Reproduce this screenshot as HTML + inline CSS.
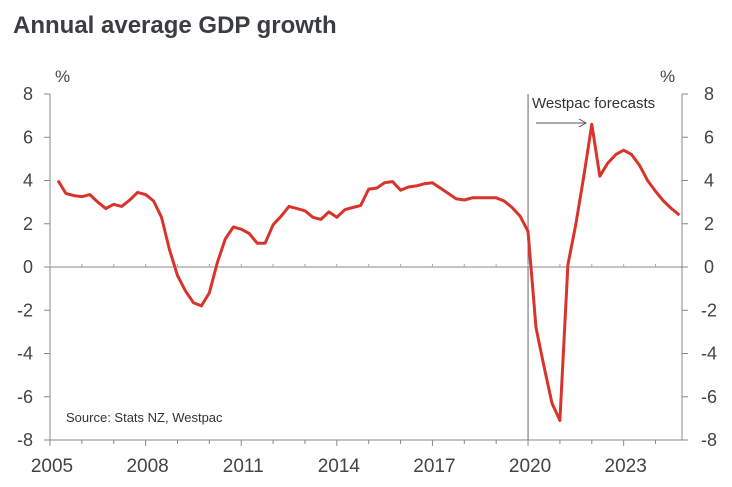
<!DOCTYPE html>
<html><head><meta charset="utf-8"><style>
html,body{margin:0;padding:0;background:#fff;width:732px;height:487px;overflow:hidden}
svg text{font-family:"Liberation Sans",sans-serif}
</style></head><body>
<svg id="chart" width="732" height="487" xmlns="http://www.w3.org/2000/svg">
<text x="13" y="33" font-size="24" font-weight="bold" fill="#3a3d42">Annual average GDP growth</text>
<g id="axes"></g>
<path id="series" fill="none" stroke="#d9342b" stroke-width="3" stroke-linejoin="round"/>
<text x="66" y="422" font-size="13" fill="#333">Source: Stats NZ, Westpac</text>
<text x="532" y="108" font-size="15" fill="#333">Westpac forecasts</text>
<g stroke="#555" stroke-width="1" fill="none">
<line x1="536" y1="123" x2="585" y2="123"/><path d="M579,119 L586,123 L579,127"/>
</g>
</svg>
<script>
const startYear = 2005.25;
const values = [4.0,3.4,3.3,3.25,3.35,3.0,2.7,2.9,2.8,3.1,3.45,3.35,3.05,2.3,0.8,-0.4,-1.1,-1.65,-1.8,-1.2,0.2,1.3,1.85,1.75,1.55,1.1,1.1,1.95,2.35,2.8,2.7,2.6,2.3,2.2,2.55,2.3,2.65,2.75,2.85,3.6,3.65,3.9,3.95,3.55,3.7,3.75,3.85,3.9,3.65,3.4,3.15,3.1,3.2,3.2,3.2,3.2,3.05,2.75,2.35,1.65,-2.8,-4.6,-6.3,-7.1,0.1,2.0,4.2,6.6,4.2,4.8,5.2,5.4,5.2,4.7,4.0,3.5,3.05,2.7,2.4];
const yTicks = [8,6,4,2,0,-2,-4,-6,-8];
const xTickLabels = [2005,2008,2011,2014,2017,2020,2023];
const forecastStart = 2020;
const X = yr => 50 + (yr - 2005) * 31.87;
const Y = v => 267 - v * 21.625;
const NS = "http://www.w3.org/2000/svg";
const ax = document.getElementById('axes');
function mk(tag, attrs, parent){const e=document.createElementNS(NS,tag);for(const k in attrs)e.setAttribute(k,attrs[k]);(parent||ax).appendChild(e);return e;}
const xR = 682;
let e;
e = mk('line',{x1:50,y1:Y(8),x2:50,y2:Y(-8),stroke:'#888','stroke-width':1});


e = mk('line',{x1:xR,y1:Y(8),x2:xR,y2:Y(-8),stroke:'#888','stroke-width':1});


e = mk('line',{x1:45,y1:Y(-8),x2:xR,y2:Y(-8),stroke:'#888','stroke-width':1});


e = mk('line',{x1:45,y1:Y(0),x2:xR,y2:Y(0),stroke:'#888','stroke-width':1});


e = mk('line',{x1:X(forecastStart),y1:Y(8),x2:X(forecastStart),y2:Y(-8),stroke:'#666','stroke-width':1});


yTicks.forEach(v=>{
  mk('line',{x1:44,y1:Y(v),x2:50,y2:Y(v),stroke:'#888'});
  mk('line',{x1:xR,y1:Y(v),x2:xR+6,y2:Y(v),stroke:'#888'});
  e = mk('text',{x:33,y:Y(v)+6,'font-size':18,fill:'#444','text-anchor':'end'});
  e.textContent = v;
  
  
  e = mk('text',{x:709,y:Y(v)+6,'font-size':18,fill:'#444','text-anchor':'middle'});
  e.textContent = v;
  
  
});
for(let yr=2005; yr<=2024; yr++){
  const major = (yr-2005)%3===0;
  mk('line',{x1:X(yr),y1:Y(-8),x2:X(yr),y2:Y(-8)+(major?6:4),stroke:'#888'});
  mk('line',{x1:X(yr),y1:Y(0)-3,x2:X(yr),y2:Y(0),stroke:'#aaa'});
}
xTickLabels.forEach(yr=>{
  e = mk('text',{x:X(yr)+2,y:472,'font-size':19,fill:'#444','text-anchor':'middle'});
  e.textContent = yr;
  
  
});
e = mk('text',{x:55,y:82,'font-size':17,fill:'#444'}); e.textContent='%';


e = mk('text',{x:660,y:82,'font-size':17,fill:'#444'}); e.textContent='%';


document.getElementById('series').setAttribute('d', values.map((v,i)=>(i?'L':'M')+X(startYear+i*0.25).toFixed(1)+','+Y(v).toFixed(1)).join(' '));
</script>
</body></html>
